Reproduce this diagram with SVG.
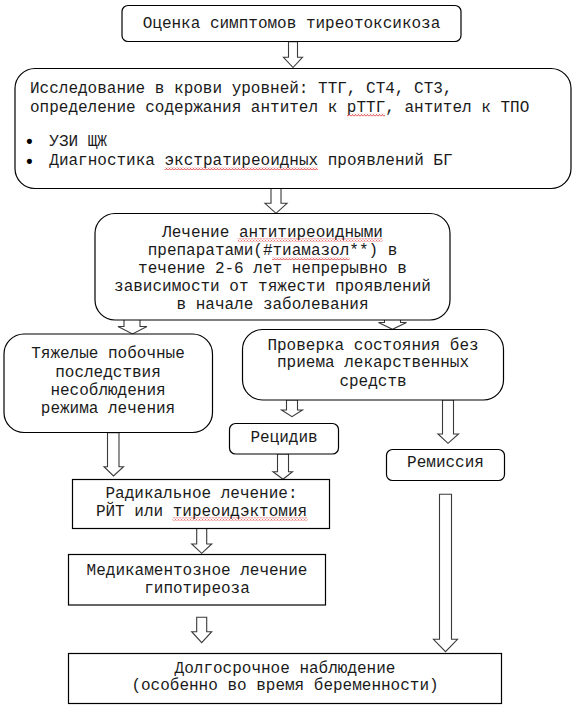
<svg xmlns="http://www.w3.org/2000/svg" width="578" height="718" viewBox="0 0 578 718">
<style>
.box{fill:#fff;stroke:#000;stroke-width:1.2}
.t{font-family:"Liberation Mono","Courier New",monospace;font-size:16px;fill:#1a1a1a}
.c{text-anchor:middle}
.b{font-family:"Liberation Sans",Arial,sans-serif;font-size:18px;font-weight:bold;fill:#000;text-anchor:middle}
.arr{fill:#fff;stroke:#3a3a3a;stroke-width:1.1;stroke-linejoin:miter}
.sp{fill:url(#wavy)}
</style>
<defs>
<pattern id="wavy" patternUnits="userSpaceOnUse" width="3" height="3">
<path d="M0,2.5 L1.5,0.5 L3,2.5" fill="none" stroke="#e02020" stroke-width="0.8"/>
</pattern>
</defs>
<rect width="578" height="718" fill="#fff"/>

<g id="connectors">
<polygon class="arr" points="288.5,41.7 297.5,41.7 297.5,57.3 302.5,57.3 293,67.5 283.5,57.3 288.5,57.3"/>
<polygon class="arr" points="271,188.3 281,188.3 281,203.3 287,203.3 276,213.3 265,203.3 271,203.3"/>
<polygon class="arr" points="124,318 140,318 140,326.5 147,326.5 132.5,334 118,326.5 124,326.5"/>
<polygon class="arr" points="384.5,315 400.5,315 400.5,322.5 406.5,322.5 392.5,329.3 378.5,322.5 384.5,322.5"/>
<polygon class="arr" points="286.5,400 297.5,400 297.5,410 302.5,410 292,416.7 281.5,410 286.5,410"/>
<polygon class="arr" points="107.5,432.7 119,432.7 119,466.7 123.5,466.7 113.5,476 104,466.7 107.5,466.7"/>
<polygon class="arr" points="277.5,454 288.5,454 288.5,471.7 292.5,471.7 283,479.3 273,471.7 277.5,471.7"/>
<polygon class="arr" points="442.5,400 453.5,400 453.5,434 458.5,434 448,443.3 438,434 442.5,434"/>
<polygon class="arr" points="439.5,494.3 451.5,494.3 451.5,639.3 457.5,639.3 445.5,651.7 433.5,639.3 439.5,639.3"/>
<polygon class="arr" points="196.7,528.3 206.7,528.3 206.7,544 211.7,544 201.7,553.3 191.7,544 196.7,544"/>
<polygon class="arr" points="196.7,617.3 206.7,617.3 206.7,631.7 211.7,631.7 201.7,642.7 191.7,631.7 196.7,631.7"/>
</g>

<g id="n1">
<rect class="box" x="122" y="5.5" width="339" height="36" rx="6"/>
<text class="t c" x="291.5" y="27.5">Оценка симптомов тиреотоксикоза</text>
</g>

<g id="n2">
<rect class="box" x="15" y="68.5" width="556" height="120" rx="20"/>
<text class="t" x="30" y="93">Исследование в крови уровней: ТТГ, СТ4, СТ3,</text>
<text class="t" x="30" y="111.7">определение содержания антител к рТТГ, антител к ТПО</text>
<rect class="sp" x="347" y="113.5" width="38" height="3"/>
<text class="b" x="29.5" y="147">•</text>
<text class="t" x="49.3" y="145.7">УЗИ ЩЖ</text>
<text class="b" x="29.5" y="166.5">•</text>
<text class="t" x="49.3" y="165">Диагностика экстратиреоидных проявлений БГ</text>
<rect class="sp" x="164.5" y="167" width="153.5" height="3"/>
</g>

<g id="n3">
<rect class="box" x="95" y="213.5" width="355" height="106.5" rx="20"/>
<text class="t c" x="272.5" y="236.7">Лечение антитиреоидными</text>
<rect class="sp" x="237.5" y="238.5" width="145" height="3"/>
<text class="t c" x="272.5" y="255">препаратами(#тиамазол**) в</text>
<rect class="sp" x="272" y="257" width="77.5" height="3"/>
<text class="t c" x="272.5" y="272.7">течение 2-6 лет непрерывно в</text>
<text class="t c" x="272.5" y="291">зависимости от тяжести проявлений</text>
<text class="t c" x="272.5" y="309.3">в начале заболевания</text>
</g>

<g id="n4">
<rect class="box" x="4" y="334" width="208.5" height="98.5" rx="20"/>
<text class="t c" x="108" y="358.3">Тяжелые побочные</text>
<text class="t c" x="108" y="376.7">последствия</text>
<text class="t c" x="108" y="395">несоблюдения</text>
<text class="t c" x="108" y="413.3">режима лечения</text>
</g>

<g id="n5">
<rect class="box" x="242.5" y="329.5" width="261" height="70.5" rx="20"/>
<text class="t c" x="373" y="350">Проверка состояния без</text>
<text class="t c" x="373" y="367.3">приема лекарственных</text>
<text class="t c" x="373" y="386">средств</text>
</g>

<g id="n6">
<rect class="box" x="229.5" y="423.5" width="109" height="30.5" rx="6"/>
<text class="t c" x="284" y="442.3">Рецидив</text>
</g>

<g id="n7">
<rect class="box" x="386.5" y="449.5" width="118" height="31" rx="6"/>
<text class="t c" x="445.5" y="467.3">Ремиссия</text>
</g>

<g id="n8">
<rect class="box" x="72.5" y="479.5" width="257" height="49"/>
<text class="t c" x="201.5" y="498.3">Радикальное лечение:</text>
<text class="t c" x="201.5" y="516">РЙТ или тиреоидэктомия</text>
<rect class="sp" x="172.5" y="517.5" width="135" height="3"/>
</g>

<g id="n9">
<rect class="box" x="68.5" y="554.5" width="257" height="50.5"/>
<text class="t c" x="197" y="575">Медикаментозное лечение</text>
<text class="t c" x="197" y="592.7">гипотиреоза</text>
</g>

<g id="n10">
<rect class="box" x="68.5" y="653.5" width="433" height="50"/>
<text class="t c" x="285" y="672.7">Долгосрочное наблюдение</text>
<text class="t c" x="285" y="690">(особенно во время беременности)</text>
</g>
</svg>
